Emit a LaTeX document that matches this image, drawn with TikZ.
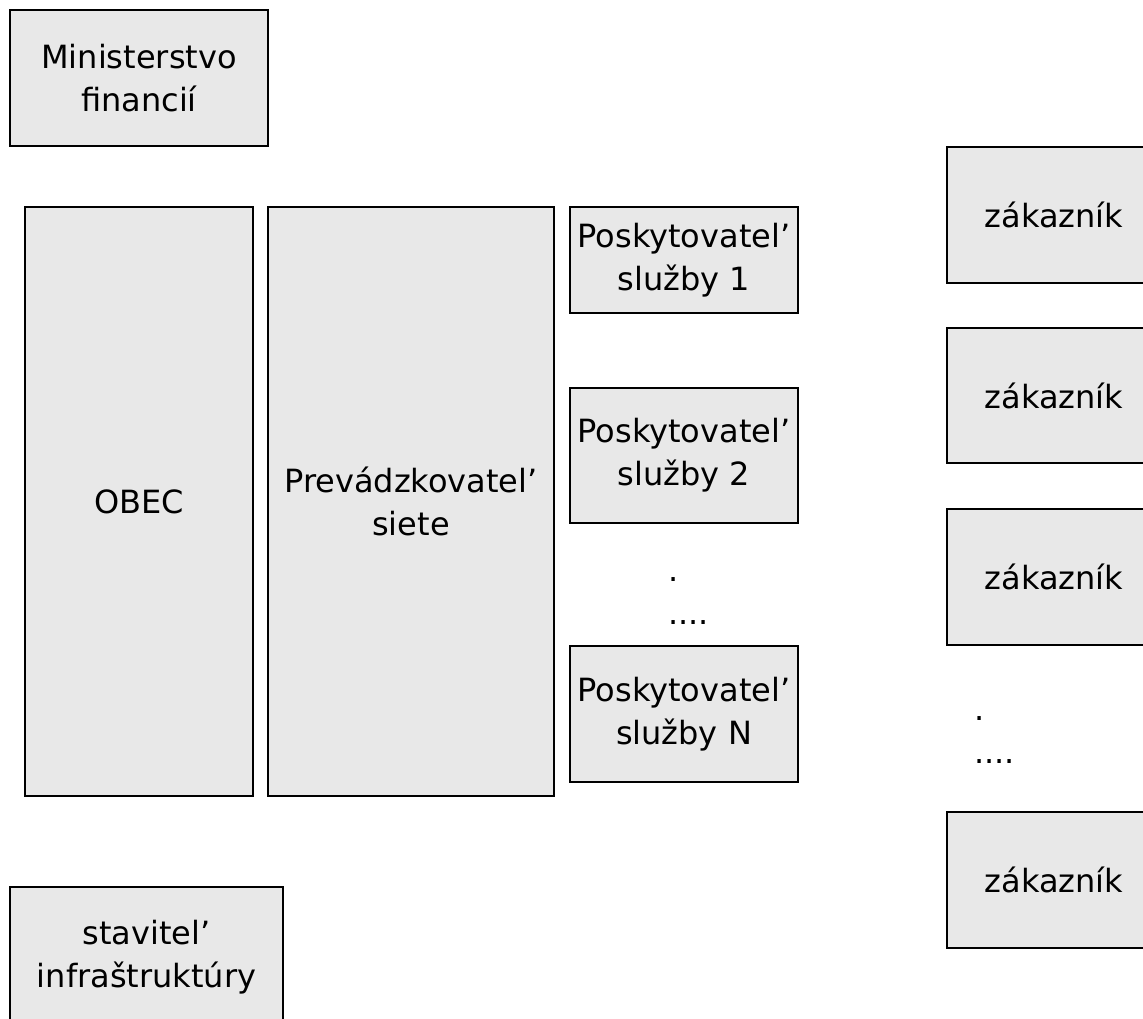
\documentclass[tikz,border=0pt]{standalone}
\usepackage{fontspec}
\setmainfont{DejaVu Sans}
\definecolor{vypln}{RGB}{232,232,232}
\begin{document}
\begin{tikzpicture}[x=1pt, y=-1pt,
    every node/.style={font=\fontsize{32}{43}\selectfont},
    kvader/.style={draw=black, line width=2pt, fill=vypln, inner sep=0pt, align=center},
    bodky/.style={align=left, anchor=north west, inner sep=0pt}]
        \useasboundingbox (0,0) rectangle (1143,1018);
        \clip (0,0) rectangle (1143,1018);
        % Lavy stlpec
        \node[kvader, minimum width=258pt, minimum height=136pt] (min) at (139, 78) {Ministerstvo\\financií};
        \node[kvader, minimum width=228pt, minimum height=589pt] (obec) at (139, 501.5) {OBEC};
        \node[kvader, minimum width=286pt, minimum height=589pt] (prev) at (411, 501.5) {Prevádzkovatel’\\siete};
        \node[kvader, minimum width=273pt, minimum height=140pt] (stav) at (146.5, 957) {stavitel’\\infraštruktúry};
        
        % Poskytovatelia sluzieb
        \node[kvader, minimum width=228pt, minimum height=106pt] (pos1) at (684, 260) {Poskytovatel’\\služby 1};
        \node[kvader, minimum width=228pt, minimum height=135pt] (pos2) at (684, 455.5) {Poskytovatel’\\služby 2};
        \node[bodky] (bod1) at (668, 577) {.\\....};
        \node[kvader, minimum width=228pt, minimum height=136pt] (posN) at (684, 714) {Poskytovatel’\\služby N};
        
        % Zakaznici
        \node[kvader, minimum width=214pt, minimum height=136pt] (zak1) at (1054, 215) {zákazník};
        \node[kvader, minimum width=214pt, minimum height=135pt] (zak2) at (1054, 395.5) {zákazník};
        \node[kvader, minimum width=214pt, minimum height=136pt] (zak3) at (1054, 577) {zákazník};
        \node[bodky] (bod2) at (974, 716) {.\\....};
        \node[kvader, minimum width=214pt, minimum height=136pt] (zak4) at (1054, 880) {zákazník};
    \end{tikzpicture}
\end{document}
